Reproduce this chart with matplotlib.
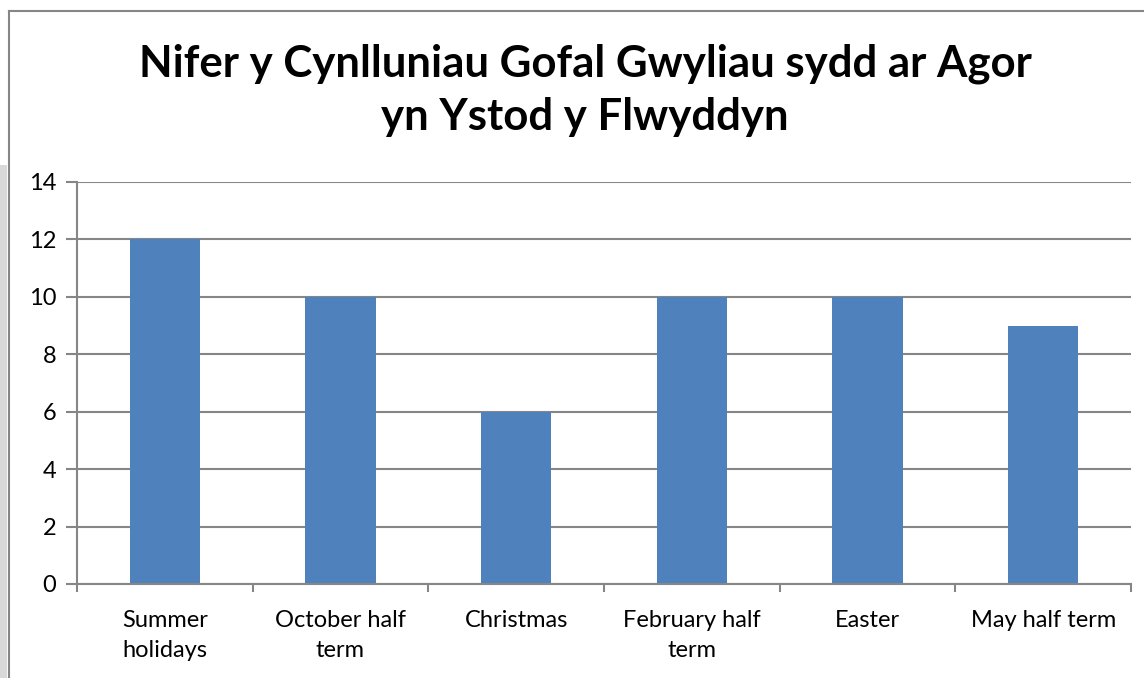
import matplotlib
matplotlib.use("Agg")
import matplotlib.pyplot as plt
from matplotlib.patches import Rectangle
from matplotlib.lines import Line2D

plt.rcParams['font.family'] = ['Lato', 'DejaVu Sans']

categories = ["Summer\nholidays", "October half\nterm", "Christmas",
              "February half\nterm", "Easter", "May half term"]
values = [12, 10, 6, 10, 10, 9]
yticks = [0, 2, 4, 6, 8, 10, 12, 14]
title_lines = ["Nifer y Cynlluniau Gofal Gwyliau sydd ar Agor", "yn Ystod y Flwyddyn"]

W, H = 1144, 678
fig = plt.figure(figsize=(W / 100, H / 100), dpi=100)

grey = "#868686"

# page strip on the left and the chart frame
fig.patches.append(Rectangle((0, 0), 7 / W, (H - 165) / H, transform=fig.transFigure,
                             facecolor="#d9d9d9", edgecolor="none"))
fig.lines.append(Line2D([8.5 / W, 8.5 / W], [0, (H - 11) / H], transform=fig.transFigure,
                        color=grey, lw=1.5))
fig.lines.append(Line2D([8.5 / W, 1], [(H - 11) / H, (H - 11) / H], transform=fig.transFigure,
                        color=grey, lw=1.5))

ax = fig.add_axes([77 / W, (H - 584) / H, (1131 - 77) / W, (584 - 182) / H])

x = range(len(values))
ax.bar(x, values, width=0.4, color="#4f81bd", zorder=3)

ax.set_xlim(-0.5, len(values) - 0.5)
ax.set_ylim(0, 14)
ax.set_yticks(yticks)
ax.set_yticklabels([str(v) for v in yticks], fontsize=17)
ax.yaxis.grid(True, color=grey, lw=1.5, zorder=0)

ax.set_xticks(list(x))
ax.set_xticklabels(categories, fontsize=17, linespacing=1.55)
ax.set_xticks([i - 0.5 for i in range(len(values) + 1)], minor=True)
ax.tick_params(axis='x', which='major', length=0, pad=18.5)
ax.tick_params(axis='x', which='minor', length=6, width=1.5, color=grey)
ax.tick_params(axis='y', length=8, width=1.5, color=grey, pad=7)

for side in ("top", "right"):
    ax.spines[side].set_visible(False)
for side in ("left", "bottom"):
    ax.spines[side].set_color(grey)
    ax.spines[side].set_linewidth(1.5)
    ax.spines[side].set_zorder(4)

for line, base in zip(title_lines, (77, 130)):
    fig.text(585 / W, (H - base) / H, line, ha="center", va="baseline",
             fontsize=31.5, fontweight="bold")

fig.savefig("out.png", dpi=100)
